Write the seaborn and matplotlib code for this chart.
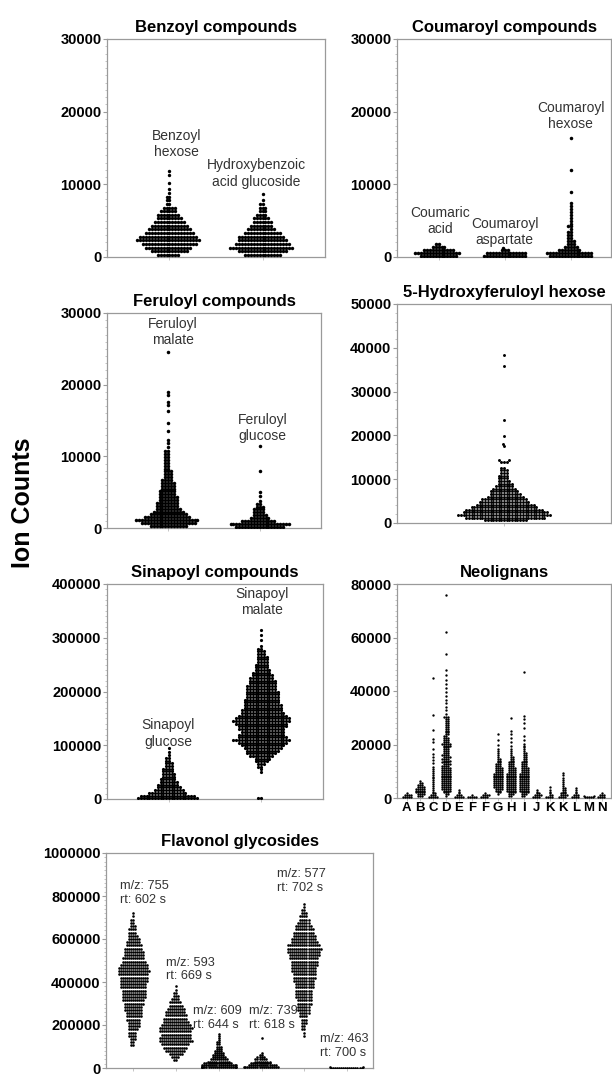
import warnings
warnings.filterwarnings("ignore")
import numpy as np
import pandas as pd
import matplotlib
matplotlib.use("Agg")
import matplotlib.pyplot as plt
import seaborn as sns
from matplotlib.ticker import MultipleLocator

# ---------------- data: (value, number of accessions at that level) ----------------
benzoyl_hexose = [(300, 8), (800, 13), (1300, 16), (1800, 19), (2300, 22), (2800, 20), (3300, 17),
                  (3800, 15), (4300, 13), (4800, 11), (5300, 9), (5800, 8), (6300, 6), (6800, 5),
                  (7300, 2), (7800, 2), (8300, 2), (8800, 1), (9300, 1), (10200, 1), (11300, 1), (11900, 1)]
hydroxybenzoic_glucoside = [(300, 13), (800, 17), (1300, 22), (1800, 19), (2300, 17), (2800, 16),
                            (3300, 13), (3800, 10), (4300, 8), (4800, 7), (5300, 6), (5800, 4),
                            (6300, 3), (6800, 3), (7300, 2), (7800, 1), (8700, 1)]

coumaric_acid = [(200, 13), (600, 16), (1000, 11), (1400, 5), (1800, 2)]
coumaroyl_aspartate = [(150, 15), (550, 14), (950, 3), (1300, 1)]
coumaroyl_hexose = [(200, 15), (600, 16), (1000, 8), (1400, 5), (1800, 3), (2200, 3), (2600, 2),
                    (3000, 2), (3400, 2), (3800, 1), (4200, 2), (4600, 1), (5000, 1), (5400, 1),
                    (5800, 1), (6200, 1), (6600, 1), (7000, 1), (7400, 1), (9000, 1), (12000, 1),
                    (16400, 1)]

feruloyl_malate = [(300, 13), (700, 19), (1100, 22), (1500, 16), (1900, 13), (2300, 11), (2700, 9),
                   (3100, 8), (3500, 8), (3900, 7), (4300, 7), (4700, 6), (5100, 6), (5500, 5),
                   (5900, 5), (6300, 5), (6700, 4), (7100, 3), (7500, 3), (7900, 3), (8300, 2),
                   (8700, 2), (9100, 2), (9500, 2), (9900, 2), (10300, 2), (10800, 2), (11300, 1),
                   (11800, 1), (12300, 1), (13500, 1), (14600, 1), (16300, 1), (17200, 1),
                   (17600, 1), (18500, 1), (19000, 1), (24500, 1)]
feruloyl_glucose = [(200, 17), (600, 21), (1000, 12), (1400, 7), (1800, 5), (2200, 4), (2600, 4),
                    (3000, 3), (3400, 2), (3800, 1), (4500, 1), (5000, 1), (8000, 1), (11500, 1)]

hydroxyferuloyl_hexose = [(600, 16), (1200, 30), (1800, 35), (2400, 32), (3000, 29), (3600, 25),
                          (4200, 22), (4800, 19), (5400, 17), (6000, 14), (6600, 12), (7200, 11),
                          (7800, 9), (8400, 7), (9000, 6), (9600, 5), (10200, 4), (10800, 4),
                          (11400, 3), (12000, 3), (12600, 2), (14000, 3), (14400, 2), (17500, 1),
                          (18000, 1), (19800, 1), (23500, 1), (35800, 1), (38300, 1)]

sinapoyl_glucose = [(1500, 22), (6500, 20), (11500, 14), (16500, 11), (21500, 9), (26500, 8),
                    (31500, 7), (36500, 6), (41500, 5), (46500, 5), (51500, 4), (56500, 4),
                    (61500, 3), (66500, 3), (71500, 2), (76500, 2), (81500, 1), (87000, 1), (95000, 1)]
sinapoyl_malate = [(2000, 2), (50000, 1), (55000, 1), (60000, 2), (65000, 3), (70000, 5), (75000, 6),
                   (80000, 9), (85000, 11), (90000, 12), (95000, 14), (100000, 16), (105000, 18),
                   (110000, 21), (115000, 18), (120000, 17), (125000, 16), (130000, 17), (135000, 18),
                   (140000, 19), (145000, 21), (150000, 20), (155000, 18), (160000, 16), (165000, 15),
                   (170000, 14), (175000, 14), (180000, 13), (185000, 13), (190000, 12), (195000, 12),
                   (200000, 12), (205000, 11), (210000, 11), (215000, 10), (220000, 10), (225000, 9),
                   (230000, 8), (235000, 7), (240000, 6), (245000, 5), (250000, 5), (255000, 4),
                   (260000, 4), (265000, 4), (270000, 3), (275000, 3), (280000, 2), (285000, 1),
                   (295000, 1), (305000, 1), (315000, 1)]

neo_A = [(300, 5), (1000, 4), (1700, 1)]
neo_B = [(700, 3), (1400, 4), (2100, 5), (2800, 5), (3500, 5), (4200, 4), (4900, 3), (5600, 2), (6300, 1)]
neo_C = [(300, 5), (1000, 3), (1700, 2), (2400, 1), (3100, 1), (3800, 1), (4500, 1), (5200, 1),
         (5900, 1), (6600, 1), (7300, 1), (8000, 1), (8700, 1), (9400, 1), (10100, 1), (10800, 1),
         (11500, 1), (13000, 1), (14300, 1), (15200, 1), (16500, 1), (18500, 1), (21000, 1),
         (22000, 1), (25500, 1), (31000, 1), (45000, 1)]
neo_D = [(700, 1), (1400, 2), (2100, 3), (2800, 4), (3500, 5), (4200, 5), (4900, 5), (5600, 5),
         (6300, 5), (7000, 5), (7700, 5), (8400, 5), (9100, 5), (9800, 5), (10500, 5), (11200, 5),
         (11900, 4), (12600, 4), (13300, 4), (14000, 4), (14700, 4), (15400, 4), (16100, 4),
         (16800, 3), (17500, 3), (18200, 3), (18900, 3), (19600, 4), (20300, 5), (21000, 3),
         (21700, 3), (22400, 3), (23100, 2), (23800, 2), (24500, 2), (25200, 2), (25900, 2),
         (26600, 2), (27300, 2), (28000, 2), (28700, 2), (29400, 2), (30100, 3), (31500, 1),
         (33000, 1), (34000, 1), (35500, 1), (36500, 1), (38000, 1), (39500, 1), (41000, 1),
         (42500, 1), (44000, 1), (46000, 1), (48000, 1), (54000, 1), (62000, 1), (76000, 1)]
neo_E = [(300, 5), (1000, 3), (1700, 1), (2400, 1), (3100, 1)]
neo_F1 = [(300, 5), (1000, 1)]
neo_F2 = [(300, 4), (1000, 4), (1700, 1)]
neo_G = [(1400, 1), (2100, 2), (2800, 3), (3500, 4), (4200, 5), (4900, 5), (5600, 5), (6300, 5),
         (7000, 5), (7700, 5), (8400, 5), (9100, 5), (9800, 4), (10500, 4), (11200, 4), (11900, 3),
         (12600, 3), (13300, 2), (14000, 2), (14700, 2), (15400, 1), (16100, 1), (16800, 1),
         (17500, 1), (18500, 1), (20000, 1), (21500, 1), (24000, 1)]
neo_H = [(700, 2), (1400, 3), (2100, 4), (2800, 5), (3500, 5), (4200, 5), (4900, 5), (5600, 5),
         (6300, 5), (7000, 5), (7700, 5), (8400, 5), (9100, 5), (9800, 4), (10500, 4), (11200, 4),
         (11900, 3), (12600, 3), (13300, 3), (14000, 2), (14700, 2), (15400, 2), (16100, 1),
         (16800, 1), (17500, 1), (18200, 1), (19600, 1), (21000, 1), (22500, 1), (24000, 1),
         (25000, 1), (30000, 1)]
neo_I = [(700, 2), (1400, 3), (2100, 4), (2800, 5), (3500, 5), (4200, 5), (4900, 5), (5600, 5),
         (6300, 5), (7000, 5), (7700, 5), (8400, 5), (9100, 5), (9800, 4), (10500, 4), (11200, 4),
         (11900, 3), (12600, 3), (13300, 3), (14000, 2), (14700, 2), (15400, 2), (16100, 2),
         (16800, 2), (17500, 1), (18200, 1), (18900, 1), (19600, 1), (20300, 1), (21700, 1),
         (23000, 1), (26000, 1), (28000, 1), (29500, 1), (30500, 1), (47000, 1)]
neo_J = [(300, 4), (1000, 4), (1700, 2), (2400, 1), (3100, 1)]
neo_K1 = [(300, 4), (1000, 2), (1700, 1), (2400, 1), (3100, 1), (4000, 1)]
neo_K2 = [(300, 4), (1000, 4), (1700, 3), (2400, 2), (3100, 2), (3800, 2), (4500, 1), (5200, 1),
          (5900, 1), (6600, 1), (7300, 1), (8500, 1), (9500, 1)]
neo_L = [(300, 4), (1000, 3), (1700, 1), (2400, 1), (3100, 1), (3900, 1)]
neo_M = [(200, 5), (600, 2)]
neo_N = [(300, 4), (1000, 3), (1700, 1)]
neo_labels = ["A", "B", "C", "D", "E", "F", "F", "G", "H", "I", "J", "K", "K", "L", "M", "N"]

flav_755 = [(105000, 2), (120000, 2), (135000, 3), (150000, 4), (165000, 4), (180000, 5), (195000, 6),
            (210000, 6), (225000, 7), (240000, 8), (255000, 8), (270000, 9), (285000, 9), (300000, 10),
            (315000, 11), (330000, 12), (345000, 12), (360000, 12), (375000, 13), (390000, 13),
            (405000, 14), (420000, 14), (435000, 15), (450000, 16), (465000, 15), (480000, 14),
            (495000, 12), (510000, 11), (525000, 10), (540000, 10), (555000, 9), (570000, 8),
            (585000, 7), (600000, 6), (615000, 5), (630000, 4), (645000, 4), (660000, 3),
            (675000, 2), (690000, 2), (705000, 1), (720000, 1)]
flav_593 = [(35000, 2), (50000, 4), (65000, 7), (80000, 10), (95000, 12), (110000, 14), (125000, 17),
            (140000, 16), (155000, 15), (170000, 16), (185000, 17), (200000, 15), (215000, 13),
            (230000, 12), (245000, 11), (260000, 10), (275000, 9), (290000, 7), (305000, 6),
            (320000, 4), (335000, 3), (350000, 2), (365000, 1), (380000, 1)]
flav_609 = [(3000, 22), (12000, 18), (21000, 14), (30000, 11), (40000, 9), (50000, 7), (60000, 6),
            (70000, 5), (80000, 4), (90000, 3), (100000, 3), (110000, 2), (120000, 2), (130000, 1),
            (140000, 1), (150000, 1), (160000, 1)]
flav_739 = [(3000, 18), (12000, 14), (21000, 10), (30000, 8), (40000, 6), (50000, 4), (60000, 2),
            (70000, 1), (140000, 1)]
flav_577 = [(150000, 1), (165000, 1), (180000, 2), (195000, 2), (210000, 3), (225000, 3), (240000, 4),
            (255000, 5), (270000, 6), (285000, 6), (300000, 7), (315000, 7), (330000, 8), (345000, 8),
            (360000, 8), (375000, 9), (390000, 9), (405000, 10), (420000, 11), (435000, 11),
            (450000, 12), (465000, 12), (480000, 13), (495000, 13), (510000, 14), (525000, 15),
            (540000, 16), (555000, 17), (570000, 16), (585000, 13), (600000, 12), (615000, 11),
            (630000, 10), (645000, 9), (660000, 8), (675000, 6), (690000, 5), (705000, 4),
            (720000, 3), (735000, 2), (750000, 1), (765000, 1)]
flav_463 = [(1500, 16), (6000, 2)]

# ---------------- figure ----------------
sns.set_theme(style="white")
plt.rcParams['font.family'] = ['Liberation Sans', 'DejaVu Sans']

W, H = 612, 1076
fig = plt.figure(figsize=(W / 100, H / 100), dpi=100)
fig.patch.set_facecolor("white")
FRAME = "#9a9a9a"
TXT = "#333333"
all_axes = []


def ax_px(l, t, r, b):
    return fig.add_axes([l / W, 1 - b / H, (r - l) / W, (b - t) / H])


def build(groups, names):
    rows = []
    for name, g in zip(names, groups):
        for v, n in g:
            rows.extend([(name, v)] * n)
    return pd.DataFrame(rows, columns=["compound", "ion"])


def panel(box, groups, names, title, ymax, ystep, yminor, xlim, size, grow, xlabels=None):
    ax = ax_px(*box)
    df = build(groups, names)
    sns.swarmplot(data=df, x="compound", y="ion", order=names, color="black", marker="o",
                  size=size, linewidth=0, ax=ax, warn_thresh=1.0)
    ax.set_xlim(*xlim)
    ax.set_ylim(0, ymax)
    ticks = list(range(0, ymax + 1, ystep))
    ax.set_yticks(ticks)
    ax.set_yticklabels([str(t) for t in ticks], fontweight="bold", fontsize=10.5, color="black")
    ax.yaxis.set_minor_locator(MultipleLocator(yminor))
    ax.tick_params(axis="y", which="major", left=True, length=3, width=0.8, color=FRAME, pad=1)
    ax.tick_params(axis="y", which="minor", left=True, length=1.5, width=0.6, color="#bbbbbb")
    ax.set_xticks(range(len(names)))
    if xlabels is None:
        ax.set_xticklabels([""] * len(names))
    else:
        ax.set_xticklabels(xlabels, fontweight="bold", fontsize=9.5, color="black")
    ax.tick_params(axis="x", bottom=True, length=2, width=0.6, color="#bbbbbb", pad=1)
    ax.set_xlabel("")
    ax.set_ylabel("")
    for s in ax.spines.values():
        s.set_visible(True)
        s.set_color(FRAME)
        s.set_linewidth(0.9)
    ax.set_title(title, fontweight="bold", fontsize=12, pad=5, color="black")
    ax.set_facecolor("white")
    all_axes.append((ax, grow))
    return ax


def note(ax, x, y, s, ha="center", fs=10):
    ax.text(x, y, s, ha=ha, va="center", fontsize=fs, color=TXT, linespacing=1.2)


# Benzoyl
ax = panel((107, 39, 325, 257), [benzoyl_hexose, hydroxybenzoic_glucoside], ["bh", "hg"],
           "Benzoyl compounds", 30000, 10000, 1000, (-0.67, 1.67), 2.0, 1.5)
note(ax, 0.08, 15500, "Benzoyl\nhexose")
note(ax, 0.93, 11500, "Hydroxybenzoic\nacid glucoside")

# Coumaroyl
ax = panel((397, 39, 611, 257), [coumaric_acid, coumaroyl_aspartate, coumaroyl_hexose],
           ["ca", "cas", "ch"], "Coumaroyl compounds", 30000, 10000, 1000, (-0.63, 2.61), 2.0, 1.6)
note(ax, 0.02, 4900, "Coumaric\nacid")
note(ax, 1.0, 3450, "Coumaroyl\naspartate")
note(ax, 2.0, 19400, "Coumaroyl\nhexose")

# Feruloyl
ax = panel((107, 313, 321, 528), [feruloyl_malate, feruloyl_glucose], ["fm", "fg"],
           "Feruloyl compounds", 30000, 10000, 1000, (-0.67, 1.67), 2.0, 1.6)
note(ax, 0.05, 27300, "Feruloyl\nmalate")
note(ax, 1.03, 13900, "Feruloyl\nglucose")

# 5-Hydroxyferuloyl hexose
ax = panel((397, 304, 611, 523), [hydroxyferuloyl_hexose], ["hf"],
           "5-Hydroxyferuloyl hexose", 50000, 10000, 2000, (-0.5, 0.5), 1.85, 1.3)

# Sinapoyl
ax = panel((107, 584, 323, 799), [sinapoyl_glucose, sinapoyl_malate], ["sg", "sm"],
           "Sinapoyl compounds", 400000, 100000, 10000, (-0.67, 1.67), 1.9, 1.45)
note(ax, -0.01, 122000, "Sinapoyl\nglucose")
note(ax, 1.01, 367000, "Sinapoyl\nmalate")

# Neolignans
neo_groups = [neo_A, neo_B, neo_C, neo_D, neo_E, neo_F1, neo_F2, neo_G, neo_H, neo_I, neo_J,
              neo_K1, neo_K2, neo_L, neo_M, neo_N]
neo_names = ["n%02d" % i for i in range(len(neo_groups))]
ax = panel((397, 584, 611, 798), neo_groups, neo_names, "Neolignans", 80000, 20000, 2000,
           (-0.75, 15.7), 1.35, 1.6, xlabels=neo_labels)

# Flavonol glycosides
ax = panel((106, 853, 373, 1068), [flav_755, flav_593, flav_609, flav_739, flav_577, flav_463],
           ["f755", "f593", "f609", "f739", "f577", "f463"], "Flavonol glycosides",
           1000000, 200000, 20000, (-0.63, 5.6), 1.4, 1.8)
note(ax, -0.30, 813000, "m/z: 755\nrt: 602 s", ha="left", fs=9.2)
note(ax, 0.78, 458000, "m/z: 593\nrt: 669 s", ha="left", fs=9.2)
note(ax, 1.41, 231000, "m/z: 609\nrt: 644 s", ha="left", fs=9.2)
note(ax, 2.71, 231000, "m/z: 739\nrt: 618 s", ha="left", fs=9.2)
note(ax, 3.37, 869000, "m/z: 577\nrt: 702 s", ha="left", fs=9.2)
note(ax, 4.37, 101000, "m/z: 463\nrt: 700 s", ha="left", fs=9.2)

fig.text(23 / W, 1 - 503 / H, "Ion Counts", rotation=90, fontsize=18, fontweight="bold",
         ha="center", va="center", color="black")

# Let seaborn lay out the swarms once, then freeze them and draw the dots a bit
# larger so that neighbouring dots merge into dense clusters (as in the original).
fig.canvas.draw()
for a, grow in all_axes:
    for coll in a.collections:
        if "draw" in coll.__dict__:
            del coll.__dict__["draw"]
        coll.set_sizes(np.asarray(coll.get_sizes()) * grow)

fig.savefig("out.png", dpi=100, facecolor="white")
